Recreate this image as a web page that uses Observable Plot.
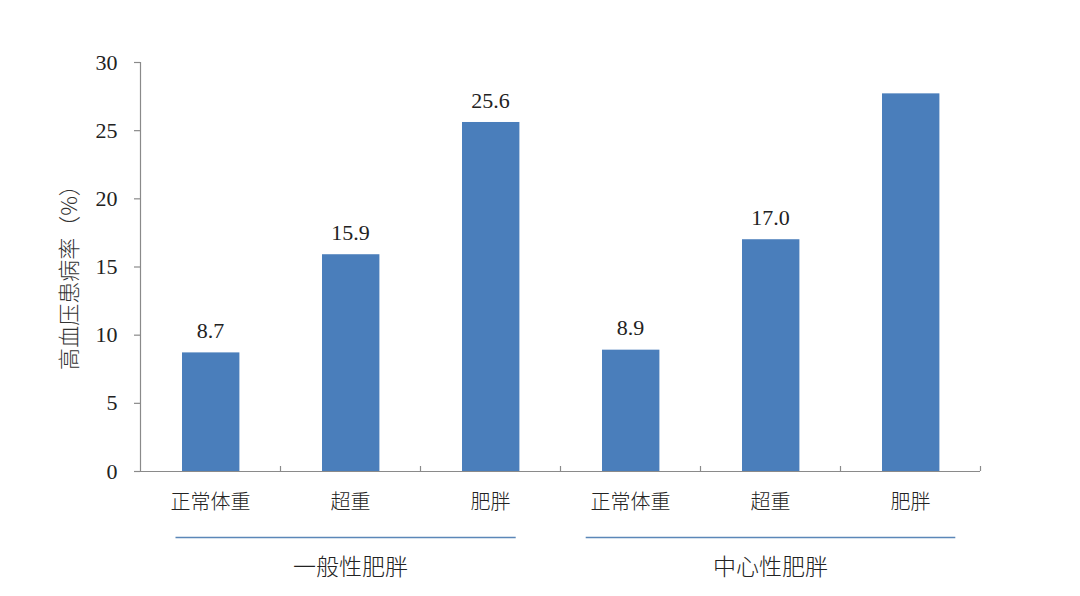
<!DOCTYPE html>
<html><head><meta charset="utf-8">
<script src="https://cdn.jsdelivr.net/npm/d3@7"></script>
<script src="https://cdn.jsdelivr.net/npm/@observablehq/plot@0.6"></script>
<style>body{margin:0;background:#fff} g[aria-label="value-labels"], g[aria-label="value-labels"] text{font-family:"Liberation Serif","Times New Roman",serif !important}</style>
</head><body><div id="chart"></div>
<script>
const categories = ["正常体重","超重","肥胖","正常体重","超重","肥胖"];
const values = [8.7, 15.9, 25.6, 8.9, 17.0, 27.7];
const showLabel = [true, true, true, true, true, false];
const groups = ["一般性肥胖","中心性肥胖"];
const groupSize = 3;
const yTicks = [0,5,10,15,20,25,30];
const yLabel = "高血压患病率（%）";

const data = categories.map((c,i)=>({i, c, v: values[i], show: showLabel[i]}));
const lineInset = [[0.25, 0.32], [0.18, 0.18]];
const gdata = groups.map((g,k)=>({g, s: k*groupSize, e: (k+1)*groupSize, a: lineInset[k][0], b: lineInset[k][1]}));
const bounds = d3.range(1, categories.length+1);

const serif = "Liberation Serif";
const cjk = "Noto Sans CJK SC";
const blue = "#4a7ebb";
const axisGray = "#8a8a8a";

const chart = Plot.plot({
  width: 1080, height: 596,
  marginLeft: 140, marginRight: 100, marginTop: 62, marginBottom: 125,
  style: {fontFamily: "'Liberation Serif', serif"},
  x: {type: "linear", domain: [0, categories.length], axis: null},
  y: {type: "linear", domain: [0, 30], axis: null},
  marks: [
    Plot.rectY(data, {x1: d=>d.i+0.3, x2: d=>d.i+0.71, y: "v", fill: blue}),
    Plot.text(data.filter(d=>d.show), {x: d=>d.i+0.5, y: "v", text: d=>d.v.toFixed(1), dy: -22, fontSize: 22, fontFamily: serif, fill: "#222", ariaLabel: "value-labels"}),
    Plot.ruleY([0], {x1: 0, x2: categories.length, stroke: axisGray, strokeWidth: 1.2}),
    Plot.ruleX([0], {y1: 0, y2: 30, stroke: axisGray, strokeWidth: 1.2}),
    Plot.axisX({ticks: bounds, tickSize: -5, tickFormat: () => "", stroke: axisGray, strokeWidth: 1.2}),
    Plot.axisY({ticks: yTicks, tickSize: 6, tickPadding: 17, tickFormat: d=>String(d), stroke: axisGray, strokeWidth: 1.2, fontSize: 22, fontFamily: serif, fill: "#222", label: null}),
    Plot.text(data, {x: d=>d.i+0.5, y: 0, text: "c", dy: 31, fontSize: 20, fontFamily: cjk, fontWeight: 300, fill: "#222"}),
    Plot.link(gdata, {x1: d=>d.s+d.a, x2: d=>d.e-d.b, y1: 0, y2: 0, dy: 66, stroke: "#5b87b8", strokeWidth: 1.6}),
    Plot.text(gdata, {x: d=>(d.s+d.e)/2, y: 0, text: "g", dy: 96, fontSize: 23, fontFamily: cjk, fontWeight: 300, fill: "#222"}),
    Plot.text([yLabel], {x: 0, y: 15, text: d=>d, rotate: -90, dx: -71, dy: 5, fontSize: 22, fontFamily: cjk, fontWeight: 300, fill: "#333"})
  ]
});
document.getElementById("chart").appendChild(chart);
</script>
</body></html>
